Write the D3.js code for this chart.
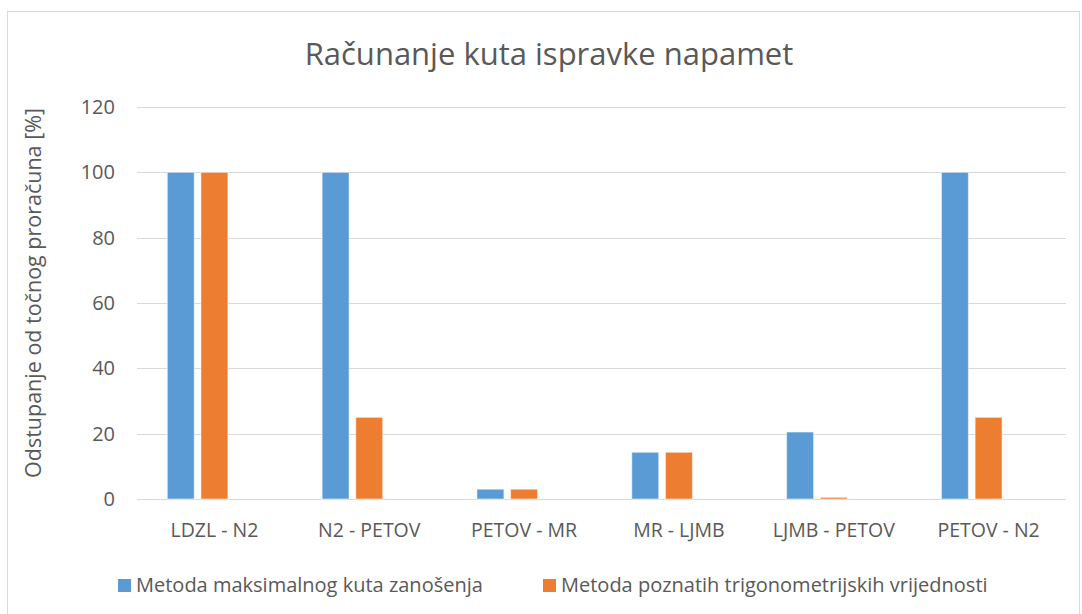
<!DOCTYPE html>
<html><head><meta charset="utf-8">
<script src="https://cdn.jsdelivr.net/npm/d3@7"></script>
<style>body{margin:0;background:#fff;}svg text{font-family:"Open Sans","Noto Sans",sans-serif;}</style>
</head><body><svg id="c" width="1082" height="614"></svg>
<script>
const categories = ["LDZL - N2","N2 - PETOV","PETOV - MR","MR - LJMB","LJMB - PETOV","PETOV - N2"];
const seriesNames = ["Metoda maksimalnog kuta zanošenja","Metoda poznatih trigonometrijskih vrijednosti"];
const seriesA = [100,100,3.0,14.3,20.5,100];
const seriesB = [100,25,3.0,14.3,0.5,25];
const yTicks = [0,20,40,60,80,100,120];
const colors = ["#5b9bd5","#ed7d31"];

const svg = d3.select("#c");
svg.append("rect").attr("x",7.5).attr("y",11.5).attr("width",1072).attr("height",610).attr("fill","#fff").attr("stroke","#d9d9d9");

const L=137,R=1066,T=107,B=499;
const x = d3.scaleBand().domain(categories).range([L,R]).paddingInner(0).paddingOuter(0);
const slots = ["a","b","c"];
const x1 = d3.scaleBand().domain(slots).range([0,x.bandwidth()]).paddingInner(0.2).paddingOuter(0.9);
const y = d3.scaleLinear().domain([0,120]).range([B,T]);

svg.append("g").selectAll("line").data(yTicks).join("line")
  .attr("x1",L).attr("x2",R).attr("y1",d=>Math.round(y(d))+0.5).attr("y2",d=>Math.round(y(d))+0.5)
  .attr("stroke","#d9d9d9").attr("stroke-width",1);

svg.append("g").selectAll("text").data(yTicks).join("text")
  .attr("x",115).attr("y",d=>y(d)).attr("dy","0.35em").attr("text-anchor","end")
  .attr("font-size",20).attr("fill","#595959").text(d=>d);

const series=[seriesA,seriesB];
series.forEach((s,i)=>{
  svg.append("g").selectAll("rect").data(s).join("rect")
    .attr("x",(d,j)=>x(categories[j])+x1(slots[i]))
    .attr("width",x1.bandwidth())
    .attr("y",d=>y(d)).attr("height",d=>B-y(d))
    .attr("fill",colors[i]).attr("stroke","#fff").attr("stroke-opacity",0.5).attr("stroke-width",1);
});

svg.append("g").selectAll("text").data(categories).join("text")
  .attr("x",d=>x(d)+x.bandwidth()/2).attr("y",537).attr("text-anchor","middle")
  .attr("font-size",19.5).attr("fill","#595959").text(d=>d);

svg.append("text").attr("x",549).attr("y",54).attr("dy","0.35em").attr("text-anchor","middle")
  .attr("font-size",31).attr("fill","#595959").text("Računanje kuta ispravke napamet");

svg.append("text").attr("transform","translate(33,293) rotate(-90)").attr("dy","0.35em").attr("text-anchor","middle")
  .attr("font-size",21.5).attr("fill","#595959").text("Odstupanje od točnog proračuna [%]");

const legX=[118,543];
seriesNames.forEach((n,i)=>{
  svg.append("rect").attr("x",legX[i]).attr("y",579).attr("width",13).attr("height",13).attr("fill",colors[i]);
  svg.append("text").attr("x",legX[i]+18).attr("y",592).attr("font-size",20).attr("fill","#595959").text(n);
});
</script></body></html>
